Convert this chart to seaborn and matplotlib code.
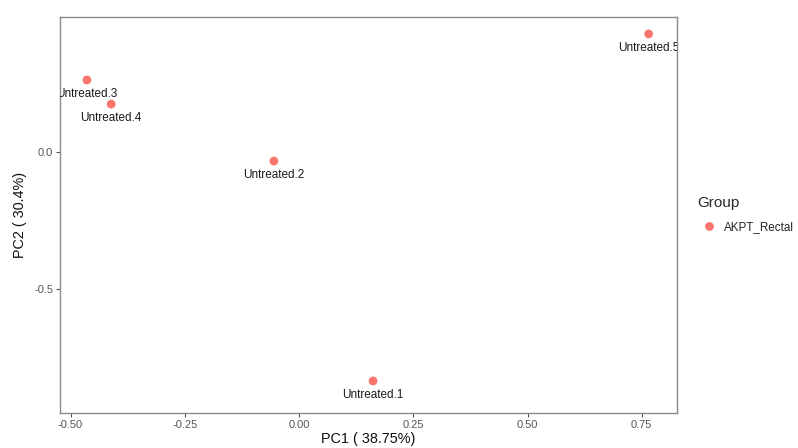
import matplotlib
matplotlib.use("Agg")
import matplotlib.pyplot as plt
import matplotlib.transforms as mtransforms
import seaborn as sns
import pandas as pd

# PCA scores per sample
samples = ["Untreated.1", "Untreated.2", "Untreated.3", "Untreated.4", "Untreated.5"]
pc1 = [0.162, -0.055, -0.464, -0.411, 0.765]
pc2 = [-0.836, -0.033, 0.263, 0.175, 0.431]
groups = ["AKPT_Rectal"] * 5

x_ticks = [-0.50, -0.25, 0.00, 0.25, 0.50, 0.75]
y_ticks = [-0.5, 0.0]

df = pd.DataFrame({"Sample": samples, "PC1": pc1, "PC2": pc2, "Group": groups})

sns.set_style("white")
plt.rcParams["font.family"] = ["Liberation Sans", "DejaVu Sans"]

fig = plt.figure(figsize=(7.98, 4.48), dpi=100)
ax = fig.add_axes([60 / 798, 1 - 413 / 448, 617 / 798, 396 / 448])

sns.scatterplot(data=df, x="PC1", y="PC2", hue="Group", palette=["#F8766D"],
                s=40, edgecolor="none", ax=ax)

# sample names sit just below each point, clipped to the panel
label_tf = mtransforms.offset_copy(ax.transData, fig=fig, x=0, y=-10, units="points")
for name, xv, yv in zip(df["Sample"], df["PC1"], df["PC2"]):
    ax.text(xv, yv, name, transform=label_tf, ha="center", va="center",
            fontsize=8.5, color="#1a1a1a", clip_on=True)

ax.set_xlim(-0.523, 0.827)
ax.set_ylim(-0.953, 0.493)
ax.set_xticks(x_ticks)
ax.set_xticklabels([f"{t:.2f}" for t in x_ticks])
ax.set_yticks(y_ticks)
ax.set_yticklabels([f"{t:.1f}" for t in y_ticks])
ax.tick_params(axis="both", bottom=True, left=True, direction="out", length=3,
               width=0.8, color="#555555", labelsize=8, labelcolor="#555555", pad=2)
for sp in ax.spines.values():
    sp.set_color("#8a8a8a")
    sp.set_linewidth(1.0)

ax.set_xlabel("PC1 ( 38.75%)", fontsize=10.4, color="#111111", labelpad=1.5)
ax.set_ylabel("PC2 ( 30.4%)", fontsize=10.4, color="#111111", labelpad=5)

sns.move_legend(ax, loc="upper left", bbox_to_anchor=(693 / 798, 1 - 191 / 448),
                bbox_transform=fig.transFigure, frameon=False, title="Group",
                fontsize=8.4, title_fontsize=11, handletextpad=0.25, borderaxespad=0,
                markerscale=1.0)
leg = ax.get_legend()
leg._legend_box.align = "left"
leg._legend_box.sep = 8

fig.savefig("out.png", dpi=100)
